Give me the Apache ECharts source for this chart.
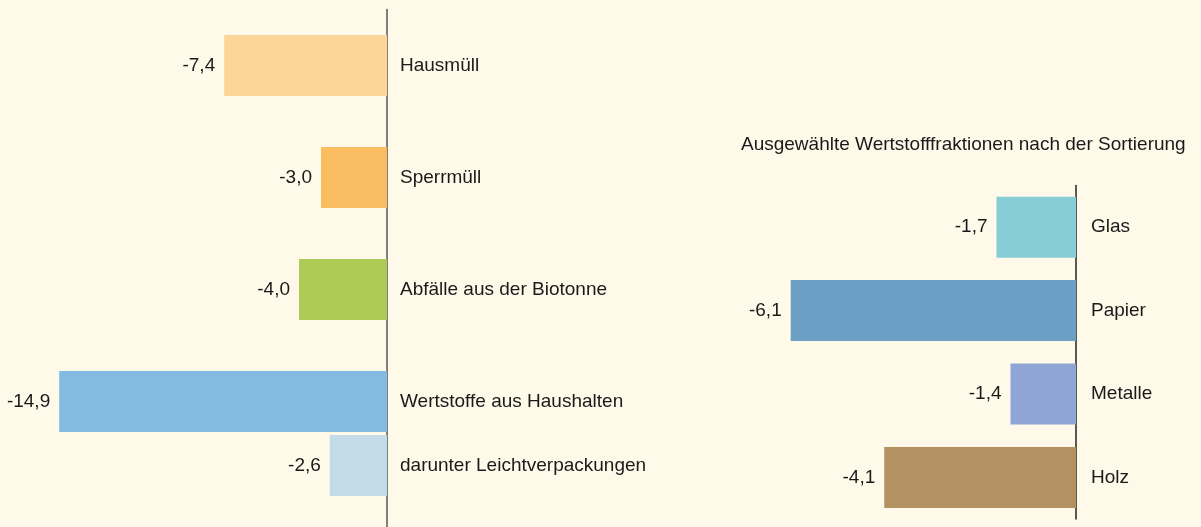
<!DOCTYPE html>
<html>
<head>
<meta charset="utf-8">
<script src="https://cdn.jsdelivr.net/npm/echarts@6/dist/echarts.min.js"></script>
<style>
  html, body { margin: 0; padding: 0; background: #fef9e8; }
  #chart { width: 1201px; height: 527px; }
</style>
</head>
<body>
<div id="chart"></div>
<script>
// Veränderung in Prozent
const wasteNames = ['Hausmüll', 'Sperrmüll', 'Abfälle aus der Biotonne', 'Wertstoffe aus Haushalten', 'darunter Leichtverpackungen']
const wasteValues = [-7.4, -3.0, -4.0, -14.9, -2.6]

const fractionTitle = 'Ausgewählte Wertstofffraktionen nach der Sortierung'
const fractionNames = ['Glas', 'Papier', 'Metalle', 'Holz']
const fractionValues = [-1.7, -6.1, -1.4, -4.1]

// Farben
const wasteColors = ['#fcd598', '#fbbd62', '#aecb56', '#83bae0', '#c2dbe6']
const fractionColors = ['#88ccd5', '#6b9fc3', '#8fa5d5', '#b39160']

// Layout links: festes Zeilenraster (16px), Zeile je Kategorie
const LEFT_ROWS = 33
const LEFT_ROW_OF = [3, 10, 17, 24, 28]

const FONT = 'Liberation Sans'
const fmt = v => v.toFixed(1).replace('.', ',')

const leftCats = Array(LEFT_ROWS).fill('')
const leftData = Array(LEFT_ROWS).fill(null)
wasteNames.forEach((n, i) => {
    leftCats[LEFT_ROW_OF[i]] = n
    leftData[LEFT_ROW_OF[i]] = { value: wasteValues[i], itemStyle: { color: wasteColors[i] } }
})

const chart = echarts.init(document.getElementById('chart'))

const labelStyle = {
    show: true,
    position: 'left',
    distance: 9,
    color: '#1a1a1a',
    fontFamily: FONT,
    fontSize: 19,
    formatter: p => fmt(p.value)
}

chart.setOption({
    backgroundColor: '#fef9e8',
    animation: false,
    title: {
        text: fractionTitle,
        left: 736,
        top: 130,
        textStyle: { fontFamily: FONT, fontSize: 19, fontWeight: 'normal', color: '#1a1a1a' }
    },
    grid: [
        { left: 57, right: 814, top: 9.5, height: 528, outerBoundsMode: 'none' },
        { left: 772, right: 125, top: 185.5, height: 333.6, outerBoundsMode: 'none' }
    ],
    xAxis: [
        { gridIndex: 0, type: 'value', min: -15, max: 0, show: false },
        { gridIndex: 1, type: 'value', min: -6.5, max: 0, show: false }
    ],
    yAxis: [
        {
            gridIndex: 0,
            type: 'category',
            inverse: true,
            position: 'right',
            data: leftCats,
            axisLine: { lineStyle: { color: '#555', width: 1.5 } },
            axisTick: { show: false },
            axisLabel: { margin: 13, color: '#1a1a1a', fontFamily: FONT, fontSize: 19, interval: 0 }
        },
        {
            gridIndex: 1,
            type: 'category',
            inverse: true,
            position: 'right',
            data: fractionNames,
            axisLine: { lineStyle: { color: '#222', width: 1.5 } },
            axisTick: { show: false },
            axisLabel: { margin: 15, color: '#1a1a1a', fontFamily: FONT, fontSize: 19 }
        }
    ],
    series: [
        {
            type: 'bar',
            xAxisIndex: 0,
            yAxisIndex: 0,
            barWidth: 61,
            data: leftData,
            label: labelStyle
        },
        {
            type: 'bar',
            xAxisIndex: 1,
            yAxisIndex: 1,
            barWidth: 61,
            data: fractionValues.map((v, i) => ({ value: v, itemStyle: { color: fractionColors[i] } })),
            label: labelStyle
        }
    ]
})
</script>
</body>
</html>
